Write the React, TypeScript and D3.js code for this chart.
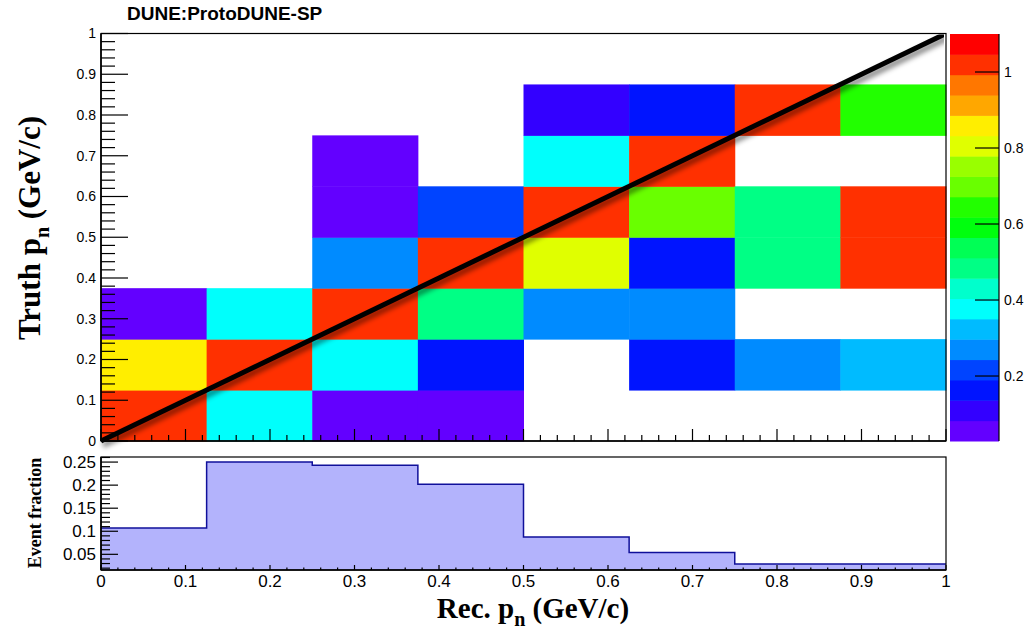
import React from 'react';
import * as d3 from 'd3';

// ---- data ----
const binEdges = [0, 0.125, 0.25, 0.375, 0.5, 0.625, 0.75, 0.875, 1];
// cell values per Rec. p_n bin (columns), listed from lowest Truth bin upward; null = empty
const recBin0 = [1.0, 0.85, 0.05, null, null, null, null, null];
const recBin1 = [0.38, 1.0, 0.38, null, null, null, null, null];
const recBin2 = [0.05, 0.38, 1.0, 0.27, 0.05, 0.05, null, null];
const recBin3 = [0.05, 0.16, 0.48, 1.0, 0.22, null, null, null];
const recBin4 = [null, null, 0.27, 0.8, 1.0, 0.38, 0.1, null];
const recBin5 = [null, 0.16, 0.27, 0.16, 0.7, 1.0, 0.16, null];
const recBin6 = [null, 0.27, null, 0.48, 0.48, null, 1.0, null];
const recBin7 = [null, 0.32, null, 1.0, 1.0, null, 0.64, null];
const matrixColumns = [recBin0, recBin1, recBin2, recBin3, recBin4, recBin5, recBin6, recBin7];

const eventFraction = [0.107, 0.25, 0.243, 0.202, 0.0875, 0.054, 0.029, 0.029];

const xTicks = [0, 0.1, 0.2, 0.3, 0.4, 0.5, 0.6, 0.7, 0.8, 0.9, 1];
const xTickLabels = ['0', '0.1', '0.2', '0.3', '0.4', '0.5', '0.6', '0.7', '0.8', '0.9', '1'];
const yTicks = [0, 0.1, 0.2, 0.3, 0.4, 0.5, 0.6, 0.7, 0.8, 0.9, 1];
const yTickLabels = ['0', '0.1', '0.2', '0.3', '0.4', '0.5', '0.6', '0.7', '0.8', '0.9', '1'];
const zTicks = [0.2, 0.4, 0.6, 0.8, 1];
const zTickLabels = ['0.2', '0.4', '0.6', '0.8', '1'];
const fracTicks = [0.05, 0.1, 0.15, 0.2, 0.25];
const fracTickLabels = ['0.05', '0.1', '0.15', '0.2', '0.25'];

const zRange = [0.029, 1.1];
const fracRange = [0.016, 0.261];
const nContours = 20;

// ---- layout ----
const W = 1028, H = 631;
const L = 101, R = 946;
const mainTop = 33.5, mainBottom = 441;
const subTop = 457, subBottom = 570;
const cbL = 950, cbR = 999, cbTop = 34, cbBottom = 441;

const sans = '"Liberation Sans", Arial, Helvetica, sans-serif';
const serif = '"Liberation Serif", "Times New Roman", serif';

// ROOT "pretty" palette: 50 colours, hue 280 -> 0
const palette = d3.range(50).map(k => d3.hsl(280 - (k + 1) * 5.6, 1, 0.5).formatHex());
const contourColor = (i: number) => palette[Math.min(49, Math.floor((i + 0.99) * 50 / nContours))];

export default function App() {
  const x = d3.scaleLinear().domain([0, 1]).range([L, R]);
  const y = d3.scaleLinear().domain([0, 1]).range([mainBottom, mainTop]);
  const z = d3.scaleLinear().domain(zRange).range([cbBottom, cbTop]);
  const yf = d3.scaleLinear().domain(fracRange).range([subBottom, subTop]);
  const dz = (zRange[1] - zRange[0]) / nContours;
  const colorOf = (v: number) => {
    const i = Math.max(0, Math.min(nContours - 1, Math.floor((v - zRange[0]) / dz)));
    return contourColor(i);
  };

  const cells: JSX.Element[] = [];
  matrixColumns.forEach((col, ci) => {
    col.forEach((v, ri) => {
      if (v == null) return;
      const x0 = x(binEdges[ci]), x1 = x(binEdges[ci + 1]);
      const y0 = y(binEdges[ri + 1]), y1 = y(binEdges[ri]);
      cells.push(<rect key={`c${ci}-${ri}`} x={x0} y={y0} width={x1 - x0 + 0.5} height={y1 - y0 + 0.5} fill={colorOf(v)} />);
    });
  });

  const minor02 = d3.range(0, 1.0001, 0.02);
  const minorFrac = d3.range(0.02, 0.2601, 0.01);

  // histogram step path
  const stepPts: [number, number][] = [];
  eventFraction.forEach((v, i) => {
    stepPts.push([x(binEdges[i]), yf(v)]);
    stepPts.push([x(binEdges[i + 1]), yf(v)]);
  });
  const stepLine = d3.line()(stepPts) as string;
  const area = d3.area<[number, number]>().x(d => d[0]).y0(subBottom).y1(d => d[1])(stepPts) as string;

  return (
    <svg width={W} height={H} style={{ position: 'absolute', left: 0, top: 0, background: '#fff' }}>
      <defs>
        <filter id="sh" x="-10%" y="-10%" width="120%" height="120%">
          <feGaussianBlur stdDeviation="2.5" />
        </filter>
        <clipPath id="mainclip"><rect x={L - 6} y={mainTop + 1} width={R - L + 4} height={mainBottom - mainTop + 12} /></clipPath>
      </defs>
      <rect x={0} y={0} width={W} height={H} fill="#fff" />
      {/* title */}
      <text x={127} y={20} fontFamily={sans} fontWeight="bold" fontSize={19}>DUNE:ProtoDUNE-SP</text>

      {/* main 2D histogram */}
      {cells}
      {/* diagonal line with shadow */}
      <g clipPath="url(#mainclip)">
        <line x1={x(0) + 2} y1={y(0) + 4} x2={x(1) + 2} y2={y(1) + 4} stroke="#000" strokeOpacity={0.45} strokeWidth={6} filter="url(#sh)" />
        <line x1={x(0)} y1={y(0)} x2={x(1)} y2={y(1)} stroke="#000" strokeWidth={5} />
      </g>
      {/* frame */}
      <rect x={L} y={mainTop} width={R - L} height={mainBottom - mainTop} fill="none" stroke="#000" strokeWidth={1.2} />
      <line x1={L} y1={mainTop} x2={L} y2={mainBottom} stroke="#000" strokeWidth={1.6} />
      <line x1={L} y1={mainBottom} x2={R} y2={mainBottom} stroke="#000" strokeWidth={1.6} />
      {/* main y ticks */}
      {minor02.map((t, i) => {
        const major = i % 5 === 0;
        return <line key={`my${i}`} x1={L} x2={L + (major ? 27 : 14)} y1={y(t)} y2={y(t)} stroke="#000" strokeWidth={1.2} />;
      })}
      {yTicks.map((t, i) => (
        <text key={`myl${i}`} x={96} y={y(t)} dy="0.35em" textAnchor="end" fontFamily={sans} fontSize={14}>{yTickLabels[i]}</text>
      ))}
      {/* main x ticks */}
      {minor02.map((t, i) => {
        const major = i % 5 === 0;
        return <line key={`mx${i}`} x1={x(t)} x2={x(t)} y1={mainBottom} y2={mainBottom - (major ? 12 : 6)} stroke="#000" strokeWidth={1.2} />;
      })}

      {/* colour bar */}
      {d3.range(nContours).map(i => (
        <rect key={`cb${i}`} x={cbL} y={z(zRange[0] + (i + 1) * dz)} width={cbR - cbL} height={z(zRange[0] + i * dz) - z(zRange[0] + (i + 1) * dz) + 0.5} fill={contourColor(i)} />
      ))}
      <line x1={cbR} y1={cbTop} x2={cbR} y2={cbBottom} stroke="#000" strokeWidth={1.2} />
      {zTicks.map((t, i) => (
        <g key={`zt${i}`}>
          <line x1={cbR - 24} x2={cbR} y1={z(t)} y2={z(t)} stroke="#000" strokeWidth={1.2} />
          <text x={1004} y={z(t)} dy="0.35em" fontFamily={sans} fontSize={14}>{zTickLabels[i]}</text>
        </g>
      ))}

      {/* bottom panel */}
      <path d={area} fill="#b3b3fc" />
      <path d={stepLine} fill="none" stroke="#10109a" strokeWidth={1.5} />
      <rect x={L} y={subTop} width={R - L} height={subBottom - subTop} fill="none" stroke="#000" strokeWidth={1.2} />
      <line x1={L} y1={subTop} x2={L} y2={subBottom} stroke="#000" strokeWidth={1.6} />
      <line x1={L} y1={subBottom} x2={R} y2={subBottom} stroke="#000" strokeWidth={1.6} />
      {minorFrac.map((t, i) => {
        const major = Math.abs(t * 100 % 5) < 1e-6 || Math.abs(t * 100 % 5 - 5) < 1e-6;
        return <line key={`fy${i}`} x1={L} x2={L + (major ? 17 : 9)} y1={yf(t)} y2={yf(t)} stroke="#000" strokeWidth={1.2} />;
      })}
      {fracTicks.map((t, i) => (
        <text key={`fyl${i}`} x={96} y={yf(t)} dy="0.36em" textAnchor="end" fontFamily={sans} fontSize={17}>{fracTickLabels[i]}</text>
      ))}
      {minor02.map((t, i) => {
        const major = i % 5 === 0;
        return <line key={`fx${i}`} x1={x(t)} x2={x(t)} y1={subBottom} y2={subBottom - (major ? 5 : 2.5)} stroke="#000" strokeWidth={1.2} />;
      })}
      {xTicks.map((t, i) => (
        <text key={`fxl${i}`} x={x(t)} y={587} textAnchor="middle" fontFamily={sans} fontSize={17}>{xTickLabels[i]}</text>
      ))}

      {/* axis titles */}
      <text x={533} y={618} textAnchor="middle" fontFamily={serif} fontWeight="bold" fontSize={29}>
        Rec. p<tspan fontSize={20} dy={8}>n</tspan><tspan dy={-8}> (GeV/c)</tspan>
      </text>
      <text transform={`translate(40,228) rotate(-90)`} textAnchor="middle" fontFamily={serif} fontWeight="bold" fontSize={31}>
        Truth p<tspan fontSize={20} dy={9}>n</tspan><tspan dy={-9}> (GeV/c)</tspan>
      </text>
      <text transform={`translate(41,513) rotate(-90)`} textAnchor="middle" fontFamily={serif} fontWeight="bold" fontSize={18}>Event fraction</text>
    </svg>
  );
}
